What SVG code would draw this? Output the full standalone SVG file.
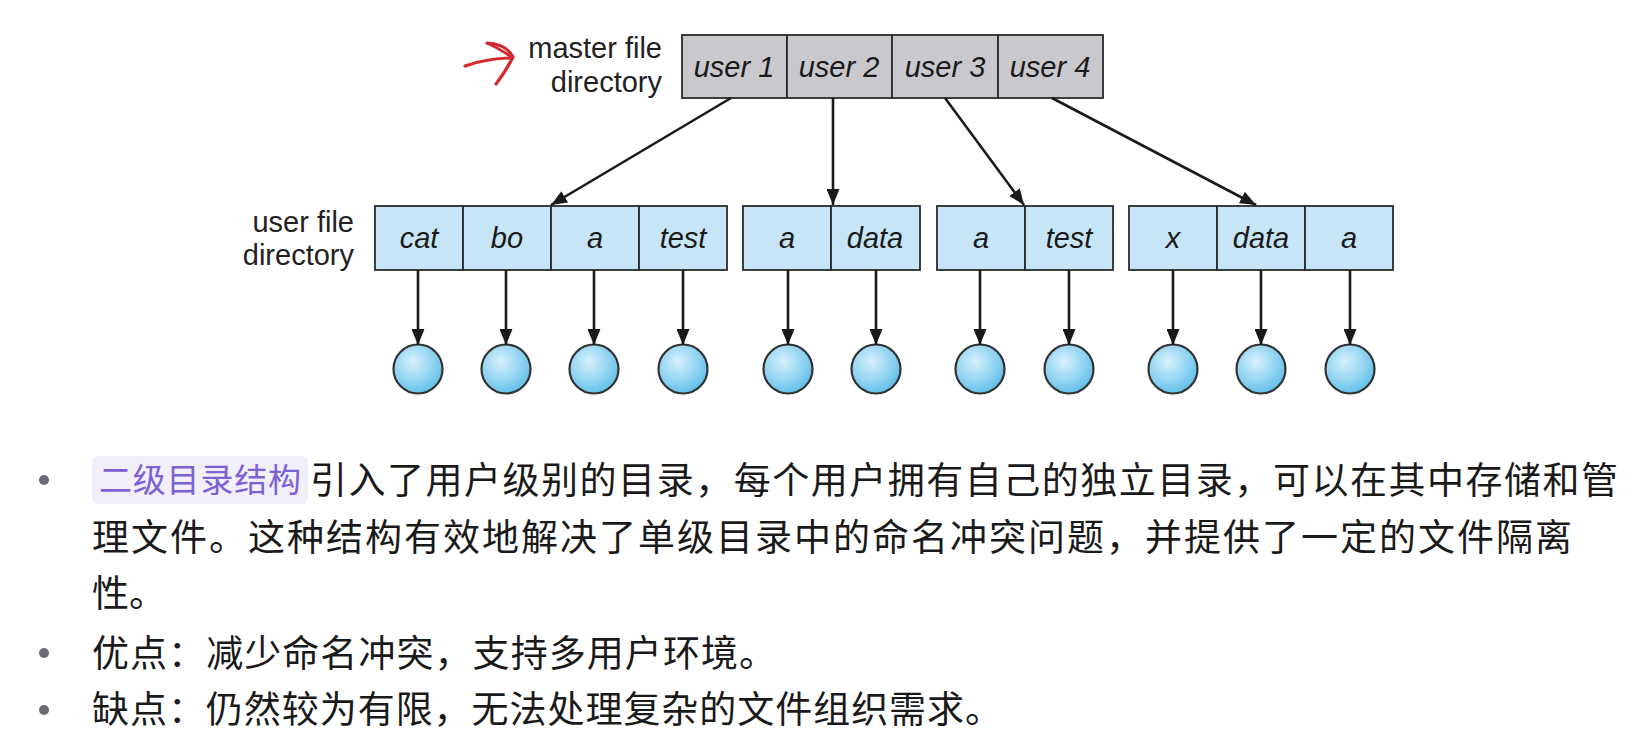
<svg xmlns="http://www.w3.org/2000/svg" width="1632" height="734" viewBox="0 0 1632 734">
<defs>
<marker id="ah" markerWidth="16" markerHeight="13" refX="16" refY="6.5" orient="auto" markerUnits="userSpaceOnUse">
<path d="M0,0 L16,6.5 L0,13 Z" fill="#1a1a1a"/>
</marker>
<radialGradient id="ball" cx="0.4" cy="0.35" r="0.7">
<stop offset="0" stop-color="#d6f0fb"/>
<stop offset="0.6" stop-color="#8fd3f2"/>
<stop offset="1" stop-color="#5bbde6"/>
</radialGradient>
<style>
.m{fill:#c9c9cd;stroke:#2b2b2b;stroke-width:1.8}
.u{fill:#c6e6f7;stroke:#2b2b2b;stroke-width:1.8}
.lbl{font-family:"Liberation Sans",Arial,sans-serif;font-style:italic;font-size:29px;fill:#1a1a1a;text-anchor:middle}
.cap{font-family:"Liberation Sans",Arial,sans-serif;font-size:29px;fill:#222;text-anchor:end}
.b{fill:url(#ball);stroke:#333;stroke-width:2.2}
.c line{stroke:#1a1a1a;stroke-width:2.6;marker-end:url(#ah)}
.t{font-family:"Noto Sans CJK SC","Noto Sans",sans-serif;font-size:37px;fill:#1a1a1a}
.dot{fill:#6b6b78}
</style>
</defs>
<rect width="1632" height="734" fill="#ffffff"/>

<g id="annotation">
<path d="M465,66 Q488,58 512,58" fill="none" stroke="#d42a2f" stroke-width="3.2" stroke-linecap="round"/>
<path d="M487,43 Q506,44 513,57 Q506,71 496,84" fill="none" stroke="#d42a2f" stroke-width="3.2" stroke-linecap="round"/>
<path d="M487,43 Q502,50 511,57" fill="none" stroke="#d42a2f" stroke-width="2.6" stroke-linecap="round"/>
</g>

<g id="master-label">
<text class="cap" x="662" y="58">master file</text>
<text class="cap" x="662" y="92">directory</text>
</g>

<g id="master">
<rect class="m" x="682" y="35" width="105" height="63"/>
<rect class="m" x="787" y="35" width="105" height="63"/>
<rect class="m" x="892" y="35" width="106" height="63"/>
<rect class="m" x="998" y="35" width="105" height="63"/>
<text class="lbl" x="734" y="77">user 1</text>
<text class="lbl" x="839" y="77">user 2</text>
<text class="lbl" x="945" y="77">user 3</text>
<text class="lbl" x="1050" y="77">user 4</text>
</g>

<g id="user-label">
<text class="cap" x="354" y="232">user file</text>
<text class="cap" x="354" y="265">directory</text>
</g>

<g id="ufd1">
<rect class="u" x="375" y="206" width="88" height="64"/>
<rect class="u" x="463" y="206" width="88" height="64"/>
<rect class="u" x="551" y="206" width="88" height="64"/>
<rect class="u" x="639" y="206" width="88" height="64"/>
<text class="lbl" x="419" y="248">cat</text>
<text class="lbl" x="507" y="248">bo</text>
<text class="lbl" x="595" y="248">a</text>
<text class="lbl" x="683" y="248">test</text>
</g>
<g id="ufd2">
<rect class="u" x="743" y="206" width="88" height="64"/>
<rect class="u" x="831" y="206" width="89" height="64"/>
<text class="lbl" x="787" y="248">a</text>
<text class="lbl" x="875" y="248">data</text>
</g>
<g id="ufd3">
<rect class="u" x="937" y="206" width="88" height="64"/>
<rect class="u" x="1025" y="206" width="88" height="64"/>
<text class="lbl" x="981" y="248">a</text>
<text class="lbl" x="1069" y="248">test</text>
</g>
<g id="ufd4">
<rect class="u" x="1129" y="206" width="88" height="64"/>
<rect class="u" x="1217" y="206" width="88" height="64"/>
<rect class="u" x="1305" y="206" width="88" height="64"/>
<text class="lbl" x="1173" y="248">x</text>
<text class="lbl" x="1261" y="248">data</text>
<text class="lbl" x="1349" y="248">a</text>
</g>

<g id="files">
<circle class="b" cx="418" cy="369" r="24.5"/>
<circle class="b" cx="506" cy="369" r="24.5"/>
<circle class="b" cx="594" cy="369" r="24.5"/>
<circle class="b" cx="683" cy="369" r="24.5"/>
<circle class="b" cx="788" cy="369" r="24.5"/>
<circle class="b" cx="876" cy="369" r="24.5"/>
<circle class="b" cx="980" cy="369" r="24.5"/>
<circle class="b" cx="1069" cy="369" r="24.5"/>
<circle class="b" cx="1173" cy="369" r="24.5"/>
<circle class="b" cx="1261" cy="369" r="24.5"/>
<circle class="b" cx="1350" cy="369" r="24.5"/>
</g>

<g id="connectors" class="c">
<line x1="731" y1="98" x2="551" y2="205"/>
<line x1="833" y1="98" x2="833" y2="205"/>
<line x1="945" y1="98" x2="1024" y2="205"/>
<line x1="1052" y1="98" x2="1256" y2="205"/>
<line x1="418" y1="270" x2="418" y2="345"/>
<line x1="506" y1="270" x2="506" y2="345"/>
<line x1="594" y1="270" x2="594" y2="345"/>
<line x1="683" y1="270" x2="683" y2="345"/>
<line x1="788" y1="270" x2="788" y2="345"/>
<line x1="876" y1="270" x2="876" y2="345"/>
<line x1="980" y1="270" x2="980" y2="345"/>
<line x1="1069" y1="270" x2="1069" y2="345"/>
<line x1="1173" y1="270" x2="1173" y2="345"/>
<line x1="1261" y1="270" x2="1261" y2="345"/>
<line x1="1350" y1="270" x2="1350" y2="345"/>
</g>

<g id="text">
<circle class="dot" cx="44" cy="480" r="5"/>
<circle class="dot" cx="44" cy="653" r="5"/>
<circle class="dot" cx="44" cy="710" r="5"/>
<rect x="92" y="456" width="216" height="48" rx="6" fill="#f1eff9"/>
<text x="99" y="492" font-family="'Noto Sans CJK SC','Noto Sans',sans-serif" font-size="33" fill="#7d5fd6" textLength="202" lengthAdjust="spacing">二级目录结构</text>
<text class="t" x="310" y="494" textLength="1308" lengthAdjust="spacing">引入了用户级别的目录，每个用户拥有自己的独立目录，可以在其中存储和管</text>
<text class="t" x="92" y="551" textLength="1480" lengthAdjust="spacing">理文件。这种结构有效地解决了单级目录中的命名冲突问题，并提供了一定的文件隔离</text>
<text class="t" x="92" y="607">性。</text>
<text class="t" x="92" y="667" textLength="684" lengthAdjust="spacing">优点：减少命名冲突，支持多用户环境。</text>
<text class="t" x="92" y="723" textLength="910" lengthAdjust="spacing">缺点：仍然较为有限，无法处理复杂的文件组织需求。</text>
</g>
</svg>
